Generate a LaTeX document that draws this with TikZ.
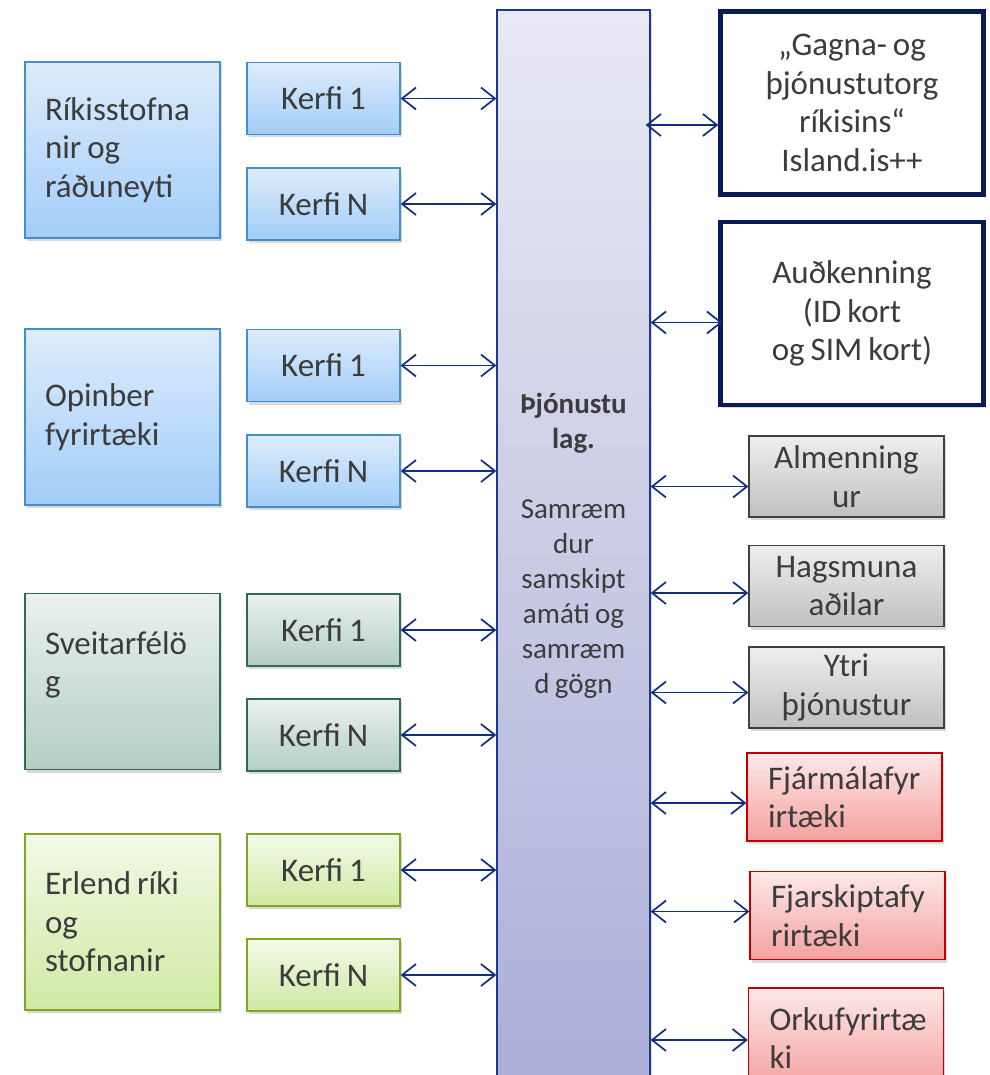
\documentclass[tikz,border=0pt]{standalone}
\usepackage{fontspec}
\setmainfont{Carlito}[WordSpace=0.8]
\usetikzlibrary{arrows.meta,shadows}
\definecolor{txtgray}{RGB}{60,60,60}
\definecolor{arrowblue}{RGB}{16,45,128}
\definecolor{navy}{RGB}{10,26,85}
\definecolor{busline}{RGB}{28,58,140}

\tikzset{
	box/.style={rectangle, font=\fontsize{33}{38.5}\selectfont, text=txtgray,
		line width=1.3pt, drop shadow={opacity=.3, shadow xshift=1.5pt, shadow yshift=-3pt}},
	bluebox/.style={box, draw={rgb,255:red,70;green,142;blue,200}, top color={rgb,255:red,222;green,236;blue,252}, bottom color={rgb,255:red,162;green,205;blue,249}},
	tealbox/.style={box, draw={rgb,255:red,47;green,107;blue,80}, top color={rgb,255:red,234;green,241;blue,238}, bottom color={rgb,255:red,180;green,206;blue,195}},
	limebox/.style={box, draw={rgb,255:red,127;green,165;blue,38}, top color={rgb,255:red,242;green,249;blue,231}, bottom color={rgb,255:red,208;green,233;blue,163}},
	graybox/.style={box, draw={rgb,255:red,64;green,64;blue,64}, top color={rgb,255:red,238;green,238;blue,238}, bottom color={rgb,255:red,192;green,192;blue,192}, minimum width=195pt, minimum height=81pt, align=center},
	redbox/.style={box, draw={rgb,255:red,192;green,0;blue,0}, top color={rgb,255:red,253;green,232;blue,232}, bottom color={rgb,255:red,245;green,160;blue,160}, minimum width=195pt, minimum height=88pt, inner xsep=21pt, text width=153pt, align=flush left},
	group/.style={minimum width=195pt, minimum height=176pt, inner xsep=20pt, text width=155pt, align=flush left},
	kerfi/.style={minimum width=153pt, minimum height=72pt, align=center},
	topbox/.style={box, draw=navy, fill=white, line width=4.5pt, minimum width=263pt, minimum height=183pt, align=center},
	conn/.style={draw=arrowblue, line width=1.7pt, {Straight Barb[length=14pt,width=22pt]}-{Straight Barb[length=14pt,width=22pt]}}
}

\begin{document}
\begin{tikzpicture}[x=1pt,y=-1pt]
	\useasboundingbox (0,0) rectangle (989,1075);

	% midlaegt thjonustulag
	\node[box, draw=busline, top color={rgb,255:red,233;green,233;blue,244}, bottom color={rgb,255:red,170;green,174;blue,215}, minimum width=153pt, minimum height=1090pt] (bus) at (573.5,555) {};
	\node[font=\fontsize{29}{35}\selectfont, text=txtgray, align=center] (lagtxt) at (573.5,546) {\textbf{Þjónustu}\\\textbf{lag.}\\[35pt]Samræm\\dur\\samskipt\\amáti og\\samræm\\d gögn};

	% stofnanir vinstra megin
	\node[bluebox, group] (rik) at (122.5,150) {Ríkisstofna\\nir og\\ráðuneyti};
	\node[bluebox, group] (opi) at (122.5,417) {Opinber\\fyrirtæki};
	\node[tealbox, group] (sve) at (122.5,681.5) {Sveitarfélö\\g\\\mbox{}};
	\node[limebox, group] (erl) at (122.5,922) {Erlend ríki\\og\\stofnanir};

	% kerfi
	\node[bluebox, kerfi] (rik1) at (323.5,98.5) {Kerfi 1};
	\node[bluebox, kerfi] (rikN) at (323.5,204) {Kerfi N};
	\node[bluebox, kerfi] (opi1) at (323.5,365.5) {Kerfi 1};
	\node[bluebox, kerfi] (opiN) at (323.5,471) {Kerfi N};
	\node[tealbox, kerfi] (sve1) at (323.5,630) {Kerfi 1};
	\node[tealbox, kerfi] (sveN) at (323.5,735) {Kerfi N};
	\node[limebox, kerfi] (erl1) at (323.5,870) {Kerfi 1};
	\node[limebox, kerfi] (erlN) at (323.5,975) {Kerfi N};

	\foreach \k in {rik1,rikN,opi1,opiN,sve1,sveN,erl1,erlN}
		\draw[conn] (\k.east) -- (\k.east -| bus.west);

	% haegra megin
	\node[topbox] (torg) at (852,103) {„Gagna- og\\þjónustutorg\\ríkisins“\\Island.is++};
	\node[topbox] (aud) at (852,313.5) {Auðkenning\\(ID kort\\og SIM kort)};

	\node[graybox] (alm) at (846.5,476.5) {Almenning\\ur};
	\node[graybox] (hag) at (846.5,586) {Hagsmuna\\aðilar};
	\node[graybox] (ytr) at (846.5,687.5) {Ytri\\þjónustur};

	\node[redbox] (fjm) at (844.5,797) {Fjármálafyr\\irtæki};
	\node[redbox] (fjs) at (847.5,915.5) {Fjarskiptafy\\rirtæki};
	\node[redbox, minimum height=100pt] (ork) at (846,1038) {Orkufyrirtæ\\ki};

	\draw[conn] ([xshift=-5pt]bus.east |- torg.west) ++(0,22) -- ([yshift=-22pt]torg.west);
	\draw[conn] (bus.east |- aud.west) ++(0,9) -- ([yshift=-9pt, xshift=4pt]aud.west);
	\draw[conn] (bus.east |- alm.west) ++(0,10) -- ([yshift=-10pt]alm.west);
	\draw[conn] (bus.east |- hag.west) ++(0,7) -- ([yshift=-7pt]hag.west);
	\draw[conn] (bus.east |- ytr.west) ++(0,5) -- ([yshift=-5pt]ytr.west);
	\draw[conn] (bus.east |- fjm.west) ++(0,6) -- ([yshift=-6pt]fjm.west);
	\draw[conn] (bus.east |- fjs.west) ++(0,-4) -- ([yshift=4pt]fjs.west);
	\draw[conn] (bus.east |- ork.west) ++(0,2) -- ([yshift=-2pt]ork.west);
\end{tikzpicture}
\end{document}
